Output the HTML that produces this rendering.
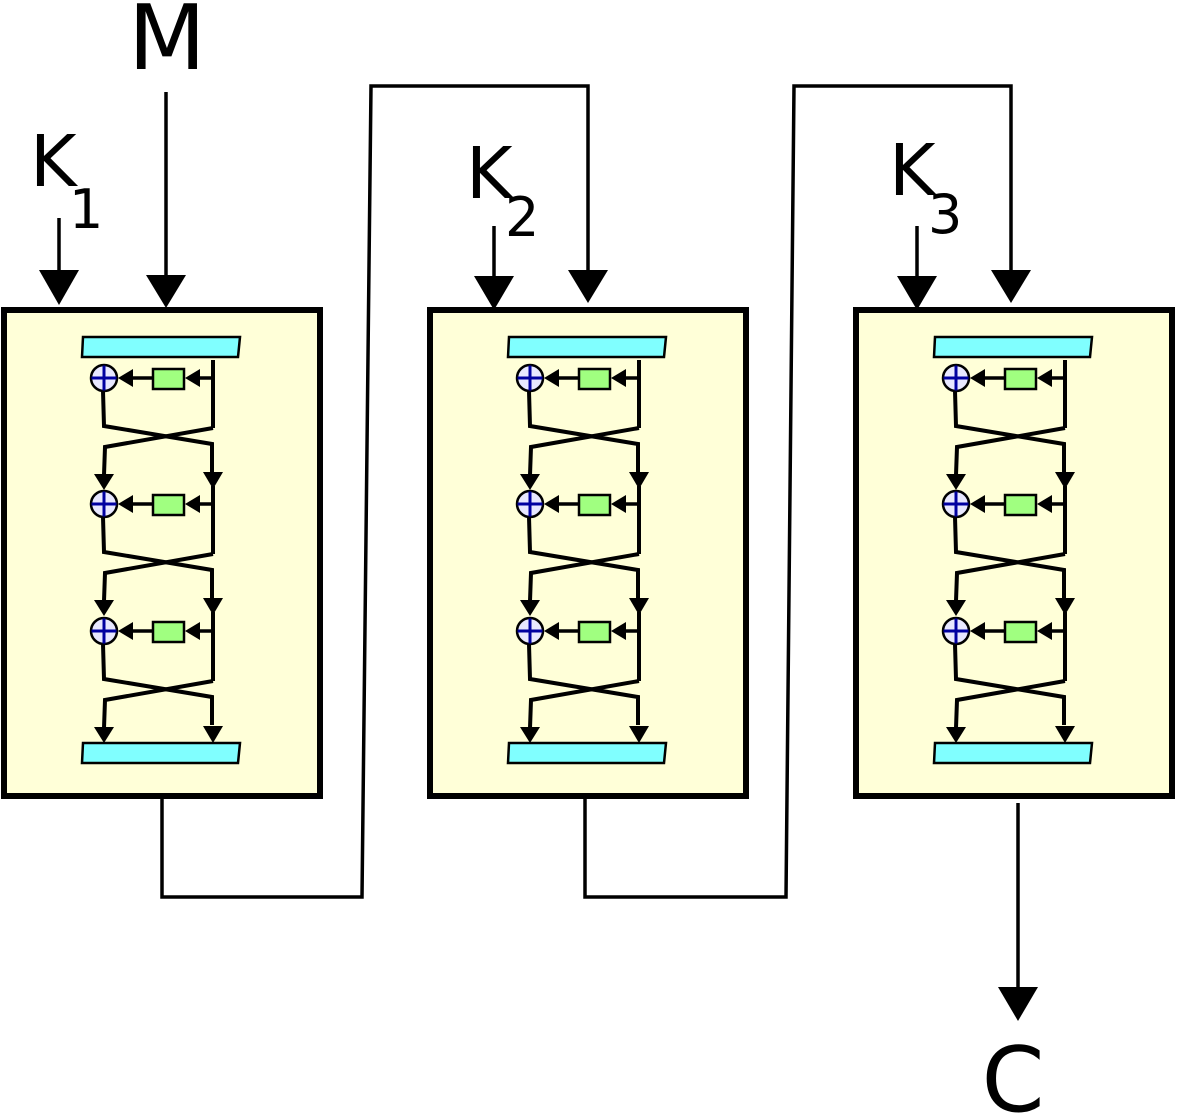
<!DOCTYPE html>
<html><head><meta charset="utf-8"><style>html,body{margin:0;padding:0;background:#fff}svg{display:block}</style></head>
<body>
<svg width="1177" height="1116" viewBox="0 0 1177 1116" xmlns="http://www.w3.org/2000/svg" font-family="'DejaVu Sans','Liberation Sans',sans-serif">
<defs>
<g id="blk">
  <rect x="4" y="310" width="316" height="486" fill="#ffffd8" stroke="#000" stroke-width="6"/>
  <polygon points="83,337 240,337 238,357 82,357" fill="#80ffff" stroke="#000" stroke-width="2.5"/>
  <polygon points="83,743 240,743 238,763 82,763" fill="#80ffff" stroke="#000" stroke-width="2.5"/>
  <g id="row">
    <line x1="213" y1="360" x2="213" y2="428" stroke="#000" stroke-width="4"/>
    <line x1="213" y1="378" x2="196" y2="378" stroke="#000" stroke-width="3.5"/>
    <polygon points="185,378 200,369 200,387" fill="#000"/>
    <rect x="153" y="369" width="31" height="20" fill="#a0ff80" stroke="#000" stroke-width="2.5"/>
    <line x1="153" y1="378" x2="128" y2="378" stroke="#000" stroke-width="3.5"/>
    <polygon points="118,378 133,369 133,387" fill="#000"/>
    <circle cx="104" cy="378" r="13" fill="#e8e8ff" stroke="#000" stroke-width="2.5"/>
    <line x1="91.5" y1="378" x2="116.5" y2="378" stroke="#0000a0" stroke-width="3"/>
    <line x1="104" y1="365.5" x2="104" y2="390.5" stroke="#0000a0" stroke-width="3"/>
    <polyline points="103,391 104,426 212,444 212,472" fill="none" stroke="#000" stroke-width="4"/>
    <polyline points="213,428 105,447 104,475" fill="none" stroke="#000" stroke-width="4"/>
  </g>
  <polygon points="94,474 114,474 104,490" fill="#000"/>
  <polygon points="203,472 223,472 213,489" fill="#000"/>
  <use href="#row" transform="translate(0,126)"/>
  <line x1="213" y1="486" x2="213" y2="510" stroke="#000" stroke-width="4"/>
  <polygon points="94,600 114,600 104,616" fill="#000"/>
  <polygon points="203,598 223,598 213,615" fill="#000"/>
  <use href="#row" transform="translate(0,253)"/>
  <line x1="213" y1="612" x2="213" y2="637" stroke="#000" stroke-width="4"/>
  <polygon points="94,727 114,727 104,743" fill="#000"/>
  <polygon points="203,726 223,726 213,743" fill="#000"/>
</g>
</defs>
<use href="#blk"/>
<use href="#blk" transform="translate(426,0)"/>
<use href="#blk" transform="translate(852,0)"/>

<g stroke="#000" stroke-width="3.5" fill="none">
  <line x1="166" y1="92" x2="166" y2="280"/>
  <line x1="59" y1="218" x2="59" y2="275"/>
  <line x1="494" y1="226" x2="494" y2="280"/>
  <line x1="917" y1="226" x2="917" y2="280"/>
  <polyline points="162,798 162,897 362,897 371,86 588,86 588,275"/>
  <polyline points="585,798 585,897 786,897 794,86 1011,86 1011,275"/>
  <line x1="1018" y1="803" x2="1018" y2="990"/>
</g>
<g fill="#000">
  <polygon points="146,275 186,275 166,308"/>
  <polygon points="39,270 79,270 59,305"/>
  <polygon points="474,276 514,276 494,310"/>
  <polygon points="568,270 608,270 588,303"/>
  <polygon points="897,276 937,276 917,310"/>
  <polygon points="991,270 1031,270 1011,303"/>
  <polygon points="998,987 1038,987 1018,1021"/>
</g>
<g fill="#000">
  <text x="167" y="69" font-size="90" text-anchor="middle">M</text>
  <text x="30" y="186" font-size="71">K</text>
  <text x="69" y="228" font-size="54">1</text>
  <text x="466" y="198" font-size="71">K</text>
  <text x="505" y="236" font-size="54">2</text>
  <text x="889" y="195" font-size="71">K</text>
  <text x="928" y="233" font-size="54">3</text>
  <text x="1013" y="1111" font-size="90" text-anchor="middle">C</text>
</g>
</svg>
</body></html>
